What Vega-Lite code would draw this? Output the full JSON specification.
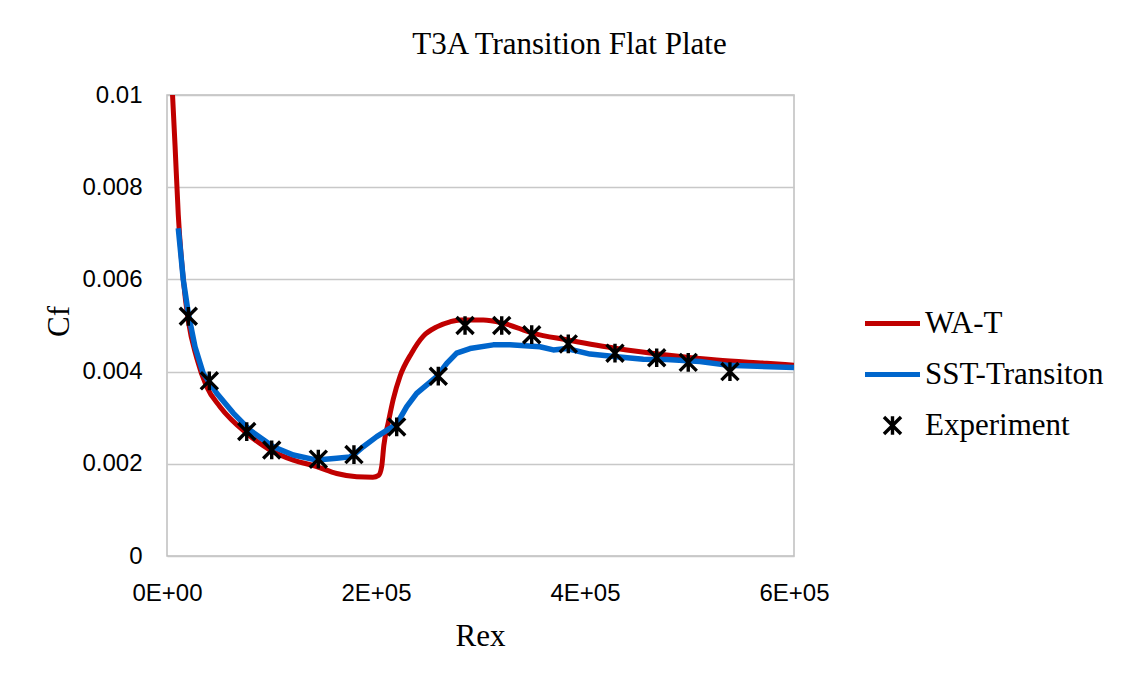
{
  "$schema": "https://vega.github.io/schema/vega-lite/v6.json",
  "autosize": "none",
  "width": 627,
  "height": 461,
  "padding": {"left": 167, "top": 95, "right": 341, "bottom": 127},
  "background": "white",
  "config": {
    "view": {"stroke": "#BFBFBF", "strokeWidth": 1.5},
    "font": "Liberation Serif"
  },
  "title": {
    "text": "T3A Transition Flat Plate",
    "font": "Liberation Serif",
    "fontSize": 31,
    "fontWeight": "normal",
    "color": "#000000",
    "anchor": "middle",
    "frame": "group",
    "baseline": "alphabetic",
    "dx": 89,
    "offset": -2
  },
  "datasets": {
    "wat": [
      {"series": "WA-T", "Rex": 5300, "Cf": 0.0100},
      {"series": "WA-T", "Rex": 7700, "Cf": 0.0089},
      {"series": "WA-T", "Rex": 10800, "Cf": 0.0074},
      {"series": "WA-T", "Rex": 15600, "Cf": 0.0060},
      {"series": "WA-T", "Rex": 20400, "Cf": 0.0051},
      {"series": "WA-T", "Rex": 28400, "Cf": 0.0043},
      {"series": "WA-T", "Rex": 38000, "Cf": 0.00367},
      {"series": "WA-T", "Rex": 50700, "Cf": 0.00324},
      {"series": "WA-T", "Rex": 76300, "Cf": 0.00266},
      {"series": "WA-T", "Rex": 98600, "Cf": 0.0023},
      {"series": "WA-T", "Rex": 120900, "Cf": 0.00208},
      {"series": "WA-T", "Rex": 143300, "Cf": 0.00194},
      {"series": "WA-T", "Rex": 162400, "Cf": 0.00179},
      {"series": "WA-T", "Rex": 181500, "Cf": 0.00172},
      {"series": "WA-T", "Rex": 197000, "Cf": 0.00171},
      {"series": "WA-T", "Rex": 202500, "Cf": 0.00175},
      {"series": "WA-T", "Rex": 205500, "Cf": 0.00195},
      {"series": "WA-T", "Rex": 207500, "Cf": 0.0024},
      {"series": "WA-T", "Rex": 211800, "Cf": 0.0029},
      {"series": "WA-T", "Rex": 216500, "Cf": 0.0034},
      {"series": "WA-T", "Rex": 223000, "Cf": 0.0039},
      {"series": "WA-T", "Rex": 234000, "Cf": 0.0044},
      {"series": "WA-T", "Rex": 245300, "Cf": 0.00477},
      {"series": "WA-T", "Rex": 258100, "Cf": 0.00497},
      {"series": "WA-T", "Rex": 270800, "Cf": 0.00508},
      {"series": "WA-T", "Rex": 280400, "Cf": 0.00512},
      {"series": "WA-T", "Rex": 302700, "Cf": 0.00512},
      {"series": "WA-T", "Rex": 321800, "Cf": 0.00505},
      {"series": "WA-T", "Rex": 350500, "Cf": 0.00483},
      {"series": "WA-T", "Rex": 382500, "Cf": 0.00469},
      {"series": "WA-T", "Rex": 430300, "Cf": 0.0045},
      {"series": "WA-T", "Rex": 478200, "Cf": 0.00436},
      {"series": "WA-T", "Rex": 526000, "Cf": 0.00425},
      {"series": "WA-T", "Rex": 573900, "Cf": 0.00418},
      {"series": "WA-T", "Rex": 600000, "Cf": 0.00414}
    ],
    "sst": [
      {"series": "SST-Transiton", "Rex": 10800, "Cf": 0.00711},
      {"series": "SST-Transiton", "Rex": 15600, "Cf": 0.00599},
      {"series": "SST-Transiton", "Rex": 20400, "Cf": 0.00526},
      {"series": "SST-Transiton", "Rex": 26800, "Cf": 0.00454},
      {"series": "SST-Transiton", "Rex": 34700, "Cf": 0.00396},
      {"series": "SST-Transiton", "Rex": 47600, "Cf": 0.00353},
      {"series": "SST-Transiton", "Rex": 63400, "Cf": 0.0031},
      {"series": "SST-Transiton", "Rex": 79400, "Cf": 0.00273},
      {"series": "SST-Transiton", "Rex": 101700, "Cf": 0.00237},
      {"series": "SST-Transiton", "Rex": 120900, "Cf": 0.00219},
      {"series": "SST-Transiton", "Rex": 143300, "Cf": 0.00208},
      {"series": "SST-Transiton", "Rex": 162400, "Cf": 0.00212},
      {"series": "SST-Transiton", "Rex": 175100, "Cf": 0.00215},
      {"series": "SST-Transiton", "Rex": 180000, "Cf": 0.00222},
      {"series": "SST-Transiton", "Rex": 187800, "Cf": 0.00237},
      {"series": "SST-Transiton", "Rex": 200700, "Cf": 0.00259},
      {"series": "SST-Transiton", "Rex": 219800, "Cf": 0.00286},
      {"series": "SST-Transiton", "Rex": 229400, "Cf": 0.00324},
      {"series": "SST-Transiton", "Rex": 238900, "Cf": 0.00353},
      {"series": "SST-Transiton", "Rex": 258100, "Cf": 0.00389},
      {"series": "SST-Transiton", "Rex": 267700, "Cf": 0.00418},
      {"series": "SST-Transiton", "Rex": 277200, "Cf": 0.0044},
      {"series": "SST-Transiton", "Rex": 289900, "Cf": 0.0045},
      {"series": "SST-Transiton", "Rex": 312200, "Cf": 0.00458},
      {"series": "SST-Transiton", "Rex": 328200, "Cf": 0.00458},
      {"series": "SST-Transiton", "Rex": 356900, "Cf": 0.00454},
      {"series": "SST-Transiton", "Rex": 369700, "Cf": 0.00447},
      {"series": "SST-Transiton", "Rex": 382500, "Cf": 0.0045},
      {"series": "SST-Transiton", "Rex": 404800, "Cf": 0.00438},
      {"series": "SST-Transiton", "Rex": 430300, "Cf": 0.00432},
      {"series": "SST-Transiton", "Rex": 455800, "Cf": 0.00427},
      {"series": "SST-Transiton", "Rex": 478200, "Cf": 0.00426},
      {"series": "SST-Transiton", "Rex": 510000, "Cf": 0.00422},
      {"series": "SST-Transiton", "Rex": 535600, "Cf": 0.00414},
      {"series": "SST-Transiton", "Rex": 557900, "Cf": 0.00412},
      {"series": "SST-Transiton", "Rex": 600000, "Cf": 0.00409}
    ],
    "exp": [
      {"series": "Experiment", "Rex": 20400, "Cf": 0.0052},
      {"series": "Experiment", "Rex": 40500, "Cf": 0.0038},
      {"series": "Experiment", "Rex": 76300, "Cf": 0.0027},
      {"series": "Experiment", "Rex": 100200, "Cf": 0.0023},
      {"series": "Experiment", "Rex": 144800, "Cf": 0.0021},
      {"series": "Experiment", "Rex": 178900, "Cf": 0.0022},
      {"series": "Experiment", "Rex": 219800, "Cf": 0.0028},
      {"series": "Experiment", "Rex": 259600, "Cf": 0.0039},
      {"series": "Experiment", "Rex": 285200, "Cf": 0.0050},
      {"series": "Experiment", "Rex": 320300, "Cf": 0.0050},
      {"series": "Experiment", "Rex": 349000, "Cf": 0.0048},
      {"series": "Experiment", "Rex": 384000, "Cf": 0.0046},
      {"series": "Experiment", "Rex": 428700, "Cf": 0.0044},
      {"series": "Experiment", "Rex": 468600, "Cf": 0.0043},
      {"series": "Experiment", "Rex": 498800, "Cf": 0.0042},
      {"series": "Experiment", "Rex": 538700, "Cf": 0.0040}
    ]
  },
  "encoding": {
    "x": {
      "field": "Rex",
      "type": "quantitative",
      "scale": {"domain": [0, 600000], "nice": false, "zero": false},
      "axis": {
        "title": "Rex",
        "values": [0, 200000, 400000, 600000],
        "labelExpr": "replace(format(datum.value, '.0e'), 'e+', 'E+0')",
        "grid": false,
        "domain": false,
        "ticks": false,
        "tickSize": 0,
        "labelFont": "Liberation Sans",
        "labelFontSize": 24,
        "labelColor": "#000000",
        "labelPadding": 25,
        "labelFlush": false,
        "titleFont": "Liberation Serif",
        "titleFontSize": 31,
        "titleFontWeight": "normal",
        "titleColor": "#000000",
        "titleBaseline": "alphabetic",
        "titleX": 313,
        "titleY": 89
      }
    },
    "y": {
      "field": "Cf",
      "type": "quantitative",
      "scale": {"domain": [0, 0.01], "nice": false, "zero": false},
      "axis": {
        "title": "Cf",
        "values": [0, 0.002, 0.004, 0.006, 0.008, 0.01],
        "format": "~g",
        "grid": true,
        "gridColor": "#C8C8C8",
        "gridWidth": 1.5,
        "domain": false,
        "ticks": false,
        "tickSize": 0,
        "labelFont": "Liberation Sans",
        "labelFontSize": 24,
        "labelColor": "#000000",
        "labelPadding": 25,
        "labelFlush": false,
        "titleFont": "Liberation Serif",
        "titleFontSize": 31,
        "titleFontWeight": "normal",
        "titleColor": "#000000",
        "titleBaseline": "alphabetic",
        "titleAlign": "center",
        "titleAngle": 270,
        "titleX": -99,
        "titleY": 226
      }
    },
    "color": {
      "field": "series",
      "type": "nominal",
      "scale": {
        "domain": ["WA-T", "SST-Transiton", "Experiment"],
        "range": ["#C00000", "#0066CC", "#000000"]
      },
      "legend": {
        "orient": "none",
        "legendX": 710,
        "legendY": 213,
        "title": null,
        "padding": 0,
        "labelFont": "Liberation Serif",
        "labelFontSize": 31,
        "labelColor": "#000000",
        "labelLimit": 400,
        "labelOffset": 17,
        "symbolSize": 3025,
        "symbolType": "stroke",
        "symbolStrokeWidth": 5,
        "rowPadding": 19,
        "encode": {
          "symbols": {
            "update": {
              "shape": {"signal": "datum.value === 'Experiment' ? 'M-0.31,-0.31L0.31,0.31M0.31,-0.31L-0.31,0.31M0,-0.34L0,0.34' : 'stroke'"},
              "strokeWidth": {"signal": "datum.value === 'Experiment' ? 3.4 : 5"}
            }
          }
        }
      }
    }
  },
  "layer": [
    {
      "data": {"name": "wat"},
      "mark": {"type": "line", "strokeWidth": 5, "strokeJoin": "round", "strokeCap": "round", "clip": true, "interpolate": "monotone"}
    },
    {
      "data": {"name": "sst"},
      "mark": {"type": "line", "strokeWidth": 5.5, "strokeJoin": "round", "strokeCap": "butt", "clip": true}
    },
    {
      "data": {"name": "exp"},
      "mark": {"type": "point", "filled": false, "strokeWidth": 3.4, "opacity": 1, "size": 3025, "shape": "M-0.31,-0.31L0.31,0.31M0.31,-0.31L-0.31,0.31M0,-0.34L0,0.34"}
    }
  ]
}
